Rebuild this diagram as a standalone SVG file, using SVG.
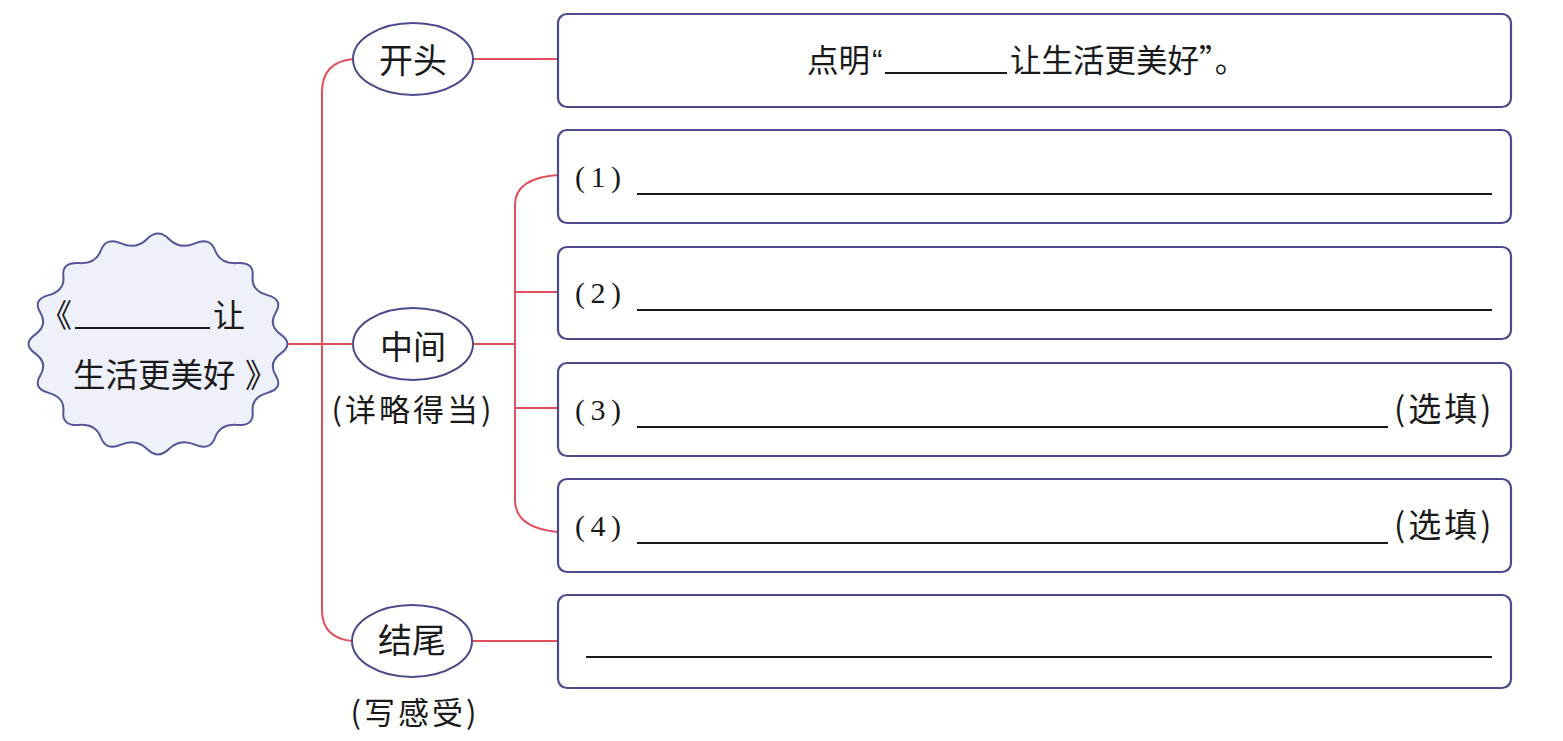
<svg xmlns="http://www.w3.org/2000/svg" width="1563" height="741" viewBox="0 0 1563 741">
<style>
.t{font-family:"Noto Sans CJK SC","Noto Sans",sans-serif;fill:#1a1a1a}
.q{font-family:"Liberation Sans","Noto Sans",sans-serif;fill:#1a1a1a}
.s{font-family:"Liberation Serif","Noto Sans CJK SC",serif;fill:#1a1a1a}
.box{fill:#ffffff;stroke:#4b4b8c;stroke-width:2.2}
.ell{fill:#ffffff;stroke:#4b4b8c;stroke-width:2}
.con{fill:none;stroke:#e0505c;stroke-width:2}
.blank{stroke:#1a1a1a;stroke-width:1.8}
</style>
<rect width="1563" height="741" fill="#ffffff"/>
<g id="connectors">
<path class="con" d="M288,344 L353,344"/>
<path class="con" d="M353,59 Q322,62 322,92 L322,610 Q322,638 352,641"/>
<path class="con" d="M473,59 L558,59"/>
<path class="con" d="M472,641 L558,641"/>
<path class="con" d="M473,344 L515,344"/>
<path class="con" d="M558,175 Q515,178 515,205 L515,500 Q515,528 558,532"/>
<path class="con" d="M515,292 L558,292"/>
<path class="con" d="M515,408 L558,408"/>
</g>
<g id="root">
<path d="M280.93,353.36 Q294,344 280.93,334.64 Q267.85,325.27 275.75,312.44 Q283.65,299.61 267.39,295.14 Q251.12,290.67 252.65,276.33 Q254.17,261.98 237.2,263.08 Q220.22,264.18 215.13,250.51 Q210.04,236.83 194.95,243.34 Q179.85,249.84 168.93,238.92 Q158,228 147.08,238.92 Q136.15,249.84 121.06,243.34 Q105.96,236.83 100.87,250.51 Q95.78,264.18 78.81,263.08 Q61.83,261.98 63.36,276.33 Q64.88,290.67 48.62,295.14 Q32.35,299.61 40.25,312.44 Q48.15,325.27 35.08,334.64 Q22,344 35.08,353.36 Q48.15,362.73 40.25,375.56 Q32.35,388.39 48.62,392.86 Q64.88,397.33 63.36,411.67 Q61.83,426.02 78.81,424.92 Q95.78,423.82 100.87,437.49 Q105.96,451.17 121.06,444.66 Q136.15,438.16 147.08,449.08 Q158,460 168.93,449.08 Q179.85,438.16 194.95,444.66 Q210.04,451.17 215.13,437.49 Q220.22,423.82 237.2,424.92 Q254.17,426.02 252.65,411.67 Q251.12,397.33 267.39,392.86 Q283.65,388.39 275.75,375.56 Q267.85,362.73 280.93,353.36 Z" fill="#eef0fa" stroke="#55559a" stroke-width="2"/>
<text class="t" font-size="32" x="72" y="327" text-anchor="end">《</text>
<line class="blank" x1="75" y1="328" x2="210" y2="328"/>
<text class="t" font-size="32" x="213" y="327">让</text>
<text class="t" font-size="32.5" x="73" y="387">生活更美好</text>
<text class="t" font-size="32.5" x="245" y="387">》</text>
</g>
<g id="n-kaitou">
<ellipse class="ell" cx="413" cy="59" rx="60" ry="36"/>
<text class="t" font-size="34" x="413" y="73" text-anchor="middle">开头</text>
</g>
<g id="n-zhongjian">
<ellipse class="ell" cx="413" cy="344" rx="60" ry="36"/>
<text class="t" font-size="33" x="413" y="359" text-anchor="middle">中间</text>
<text class="t" font-size="31" x="413" y="421" text-anchor="middle" letter-spacing="3">(详略得当)</text>
</g>
<g id="n-jiewei">
<ellipse class="ell" cx="412" cy="641" rx="60" ry="36"/>
<text class="t" font-size="34" x="412" y="653" text-anchor="middle">结尾</text>
<text class="t" font-size="31" x="415" y="724" text-anchor="middle" letter-spacing="3">(写感受)</text>
</g>
<g id="b1">
<rect class="box" x="558" y="14" width="953" height="93" rx="9"/>
<text class="t" font-size="31.5" x="807" y="72">点明</text>
<text class="q" font-size="31.5" x="872" y="72">“</text>
<line class="blank" x1="885" y1="73" x2="1007" y2="73"/>
<text class="t" font-size="31.5" x="1010" y="72">让生活更美好”。</text>
</g>
<g id="b2">
<rect class="box" x="558" y="130" width="953" height="93" rx="9"/>
<text class="s" font-size="30" x="575" y="187" letter-spacing="5.5">(1)</text>
<line class="blank" x1="637" y1="194" x2="1492" y2="194"/>
</g>
<g id="b3">
<rect class="box" x="558" y="247" width="953" height="92" rx="9"/>
<text class="s" font-size="30" x="575" y="303" letter-spacing="5.5">(2)</text>
<line class="blank" x1="637" y1="310" x2="1492" y2="310"/>
</g>
<g id="b4">
<rect class="box" x="558" y="363" width="953" height="93" rx="9"/>
<text class="s" font-size="30" x="575" y="420" letter-spacing="5.5">(3)</text>
<line class="blank" x1="637" y1="427" x2="1388" y2="427"/>
<text class="t" font-size="33" x="1394" y="421" letter-spacing="3">(选填)</text>
</g>
<g id="b5">
<rect class="box" x="558" y="479" width="953" height="93" rx="9"/>
<text class="s" font-size="30" x="575" y="536" letter-spacing="5.5">(4)</text>
<line class="blank" x1="637" y1="543" x2="1388" y2="543"/>
<text class="t" font-size="33" x="1394" y="537" letter-spacing="3">(选填)</text>
</g>
<g id="b6">
<rect class="box" x="558" y="595" width="953" height="93" rx="9"/>
<line class="blank" x1="586" y1="657" x2="1492" y2="657"/>
</g>
</svg>
